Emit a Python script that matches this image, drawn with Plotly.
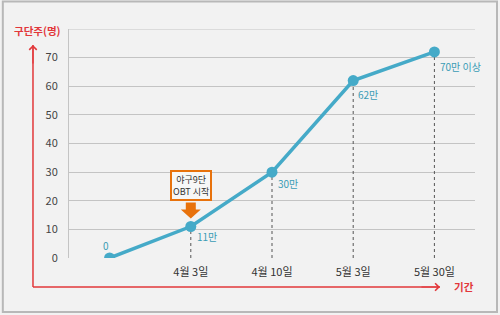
import plotly.graph_objects as go

categories = ["", "4월 3일", "4월 10일", "5월 3일", "5월 30일"]
values = [0, 11, 30, 62, 72]
value_labels = ["0", "11만", "30만", "62만", "70만 이상"]
y_ticks = [0, 10, 20, 30, 40, 50, 60, 70]

FONT = "Noto Sans CJK KR, Noto Sans, sans-serif"
LINE = "#45aac8"
RED = "#e2373a"
ORANGE = "#e8720c"
BG = "#f2f2f2"

xs = list(range(len(categories)))
fig = go.Figure()

# dashed drop lines
for i in xs[1:]:
    fig.add_trace(go.Scatter(x=[i, i], y=[0, values[i]], mode="lines",
                             line=dict(color="#555555", width=1, dash="dot"),
                             hoverinfo="skip", showlegend=False))

fig.add_trace(go.Scatter(x=xs, y=values, mode="lines+markers",
                         line=dict(color=LINE, width=3.5),
                         marker=dict(color=LINE, size=11),
                         showlegend=False))

# data labels
offsets = [(-4, 13), (16, -10), (16, -11), (15, -14), (26, -15)]
for i, (lbl, (dx, dy)) in enumerate(zip(value_labels, offsets)):
    fig.add_annotation(x=xs[i], y=values[i], text=lbl, showarrow=False,
                       xshift=dx, yshift=dy,
                       font=dict(family=FONT, size=10, color="#3a9cb5"))

# OBT box
fig.add_annotation(x=xs[1], y=values[1], text="야구9단<br>OBT 시작", showarrow=False,
                   yshift=41, font=dict(family=FONT, size=9, color="#333333"),
                   bordercolor=ORANGE, borderwidth=2, borderpad=1, bgcolor="#f7f7f7")
# orange block arrow
fig.add_shape(type="path", xref="x", yref="y", xsizemode="pixel", ysizemode="pixel",
              xanchor=xs[1], yanchor=values[1],
              path="M -5 24 L 5 24 L 5 17 L 10 17 L 0 8 L -10 17 L -5 17 Z",
              fillcolor=ORANGE, line=dict(width=0))

# top gridline at 80
fig.add_shape(type="line", xref="paper", yref="y", x0=0, x1=1, y0=80, y1=80,
              line=dict(color="#c4c4c4", width=1))

# red axes
fig.add_shape(type="line", xref="paper", yref="paper",
              x0=-0.0887, x1=0.9138, y0=-0.1266, y1=-0.1266,
              line=dict(color=RED, width=1.5))
fig.add_shape(type="line", xref="paper", yref="paper",
              x0=-0.0887, x1=-0.0887, y0=-0.1266, y1=0.93,
              line=dict(color=RED, width=1.5))
fig.add_annotation(xref="paper", yref="paper", x=-0.0887, y=0.93, ax=0, ay=20,
                   showarrow=True, arrowhead=4, arrowsize=1.2, arrowwidth=1.2,
                   arrowcolor=RED, text="")
fig.add_annotation(xref="paper", yref="paper", x=0.9138, y=-0.1266, ax=-20, ay=0,
                   showarrow=True, arrowhead=4, arrowsize=1.2, arrowwidth=1.2,
                   arrowcolor=RED, text="")
fig.add_annotation(xref="paper", yref="paper", x=-0.0887, y=1.0, yshift=-1, xshift=5,
                   xanchor="center", yanchor="middle", text="<b>구단주(명)</b>",
                   showarrow=False, font=dict(family=FONT, size=10.5, color=RED))
fig.add_annotation(xref="paper", yref="paper", x=0.9138, y=-0.1266, xshift=12,
                   xanchor="left", yanchor="middle", text="<b>기간</b>",
                   showarrow=False, font=dict(family=FONT, size=10.5, color=RED))

# outer border
fig.add_shape(type="rect", xref="paper", yref="paper",
              x0=-0.163, x1=1.0542, y0=-0.2358, y1=1.12,
              line=dict(color="#b8b8b8", width=2))

fig.update_xaxes(range=[-0.5, 4.5], tickvals=xs, ticktext=categories,
                 showgrid=False, zeroline=False, showline=False, ticks="",
                 ticklabelstandoff=6,
                 tickfont=dict(family=FONT, size=11, color="#333333"))
fig.update_yaxes(range=[0, 80], tickvals=y_ticks, showgrid=True,
                 gridcolor="#c4c4c4", gridwidth=1, zeroline=False,
                 showline=True, linecolor="#c4c4c4", linewidth=1, ticks="",
                 ticklabelstandoff=8,
                 tickfont=dict(family=FONT, size=11, color="#444444"))

fig.update_layout(width=500, height=315, margin=dict(l=69, r=25, t=29, b=57),
                  paper_bgcolor=BG, plot_bgcolor=BG, showlegend=False)
fig.write_html("out.html")
